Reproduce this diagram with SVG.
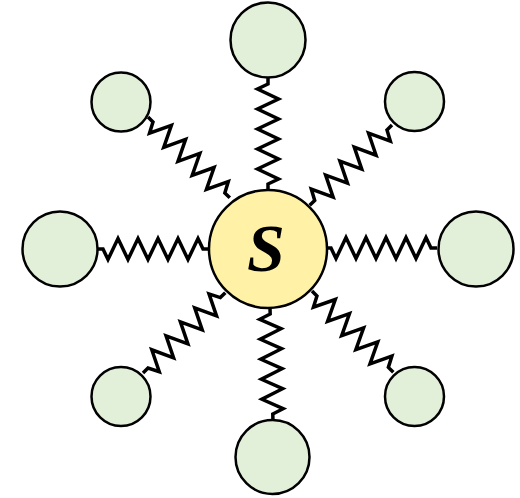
<svg xmlns="http://www.w3.org/2000/svg" width="520" height="498" viewBox="0 0 520 498">
  <style>
    .outer { fill: #E2EFD9; stroke: #000; stroke-width: 2.5; }
    .center { fill: #FFF2A6; stroke: #000; stroke-width: 2.5; }
    .spring { fill: none; stroke: #000; stroke-width: 3.5; stroke-linejoin: miter; stroke-miterlimit: 4; }
    .label { font-family: "Liberation Serif", "DejaVu Serif", serif; font-weight: bold; font-style: italic; font-size: 68px; fill: #000; }
  </style>
  <g id="connectors">
    <path class="spring" transform="translate(268,78) rotate(90)" d="M0,0 L6,0 L11,10.5 L21,-10.5 L31,10.5 L41,-10.5 L51,10.5 L61,-10.5 L71,10.5 L81,-10.5 L91,10.5 L101,-10.5 L106,0 L112,0"/>
    <path class="spring" transform="translate(270,308) rotate(88.5)" d="M0,0 L6,0 L11,10.5 L21,-10.5 L31,10.5 L41,-10.5 L51,10.5 L61,-10.5 L71,10.5 L81,-10.5 L91,10.5 L101,-10.5 L106,0 L112,0"/>
    <path class="spring" transform="translate(97,249)" d="M0,0 L6,0 L11,10.5 L21,-10.5 L31,10.5 L41,-10.5 L51,10.5 L61,-10.5 L71,10.5 L81,-10.5 L91,10.5 L101,-10.5 L106,0 L113,0"/>
    <path class="spring" transform="translate(437,248) rotate(180)" d="M0,0 L6,0 L11,10.5 L21,-10.5 L31,10.5 L41,-10.5 L51,10.5 L61,-10.5 L71,10.5 L81,-10.5 L91,10.5 L101,-10.5 L106,0 L111,0"/>
    <path class="spring" transform="translate(148,117) rotate(44.65)" d="M0,0 L7,0 L12.5,10.5 L22.5,-10.5 L32.5,10.5 L42.5,-10.5 L52.5,10.5 L62.5,-10.5 L72.5,10.5 L82.5,-10.5 L92.5,10.5 L102.5,-10.5 L108,0 L115,0"/>
    <path class="spring" transform="translate(392,125) rotate(135.7)" d="M0,0 L7,0 L12.5,-10.5 L22.5,10.5 L32.5,-10.5 L42.5,10.5 L52.5,-10.5 L62.5,10.5 L72.5,-10.5 L82.5,10.5 L92.5,-10.5 L102.5,10.5 L108,0 L115,0"/>
    <path class="spring" transform="translate(143,373) rotate(-44.3)" d="M0,0 L7,0 L12.5,10.5 L22.5,-10.5 L32.5,10.5 L42.5,-10.5 L52.5,10.5 L62.5,-10.5 L72.5,10.5 L82.5,-10.5 L92.5,10.5 L102.5,-10.5 L108,0 L115,0"/>
    <path class="spring" transform="translate(312,291) rotate(45)" d="M0,0 L7,0 L12.5,10.5 L22.5,-10.5 L32.5,10.5 L42.5,-10.5 L52.5,10.5 L62.5,-10.5 L72.5,10.5 L82.5,-10.5 L92.5,10.5 L102.5,-10.5 L108,0 L115,0"/>
  </g>
  <g id="node-top"><circle class="outer" cx="268" cy="40" r="37.5"/></g>
  <g id="node-bottom"><circle class="outer" cx="272.5" cy="457" r="37"/></g>
  <g id="node-left"><circle class="outer" cx="60" cy="249" r="37.5"/></g>
  <g id="node-right"><circle class="outer" cx="476" cy="249" r="37.5"/></g>
  <g id="node-top-left"><circle class="outer" cx="121" cy="102" r="29.5"/></g>
  <g id="node-top-right"><circle class="outer" cx="414.5" cy="101.5" r="29.5"/></g>
  <g id="node-bottom-left"><circle class="outer" cx="121" cy="396.5" r="29.5"/></g>
  <g id="node-bottom-right"><circle class="outer" cx="414.5" cy="396.5" r="29.5"/></g>
  <g id="node-center">
    <circle class="center" cx="268" cy="249" r="59"/>
    <text class="label" x="266" y="271" text-anchor="middle">S</text>
  </g>
</svg>
